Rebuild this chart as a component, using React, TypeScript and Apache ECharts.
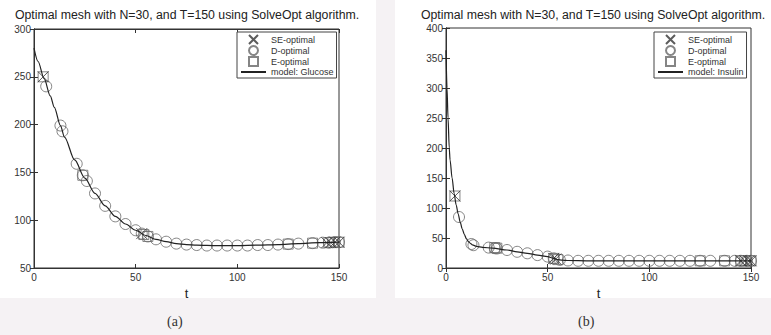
import React, { useEffect, useRef } from "react";
import * as echarts from "echarts";

const titleText = "Optimal mesh with N=30, and T=150 using SolveOpt algorithm.";

// Glucose (a)
const glucoseModelT = [0, 2, 5, 8, 10, 13, 15, 20, 25, 30, 35, 40, 45, 50, 55, 60, 65, 70, 75, 80, 90, 100, 110, 120, 130, 140, 150];
const glucoseModel = [280, 266, 248, 230, 218, 199, 187, 163, 144, 128, 115, 104, 96, 89.5, 84, 80, 77.5, 75.5, 74.5, 74, 73.5, 73.5, 74, 74.5, 75.5, 76.5, 77];
const glucoseDT = [6, 13, 14, 21, 24, 26, 30, 35, 40, 45, 50, 53, 56, 60, 65, 70, 75, 80, 85, 90, 95, 100, 105, 110, 115, 120, 125, 130, 137, 142, 145, 148, 150];
const glucoseD = [240, 199, 193, 159, 147, 141, 128, 115, 104, 96, 89.5, 86, 83, 80, 77.5, 75.5, 74.5, 74, 73.5, 73.5, 73.5, 73.5, 73.5, 74, 74, 74.5, 75, 75.5, 76, 76.5, 76.5, 77, 77];
const glucoseSET = [4.5, 53, 144, 146, 148, 150];
const glucoseSE = [250, 86, 76.5, 76.5, 77, 77];
const glucoseET = [4.5, 24, 54, 56, 125, 137, 145, 147, 150];
const glucoseE = [250, 147, 85, 83, 75, 76, 76.5, 77, 77];

// Insulin (b)
const insulinModelT = [0, 0.5, 1, 1.6, 2, 3, 4, 5, 6, 7, 8, 9, 10, 11, 12, 13, 15, 18, 23, 30, 35, 40, 45, 50, 53, 55, 57, 60, 70, 80, 100, 120, 150];
const insulinModel = [363, 300, 250, 200, 180, 150, 124, 105, 90, 76, 65, 56, 49, 44, 41, 38.5, 36, 34.5, 33, 30, 27, 24.5, 21.5, 19, 16, 14, 13, 12.5, 12, 12, 12, 12, 12];
const insulinDT = [6.4, 12.5, 13.5, 21, 24, 25, 30, 35, 40, 45, 50, 53, 56, 60, 65, 70, 75, 80, 85, 90, 95, 100, 105, 110, 115, 120, 125, 130, 137, 142, 145, 148, 150];
const insulinD = [85, 40, 38, 34, 33, 32.5, 30, 27, 24.5, 21.5, 19, 16, 13.5, 12.5, 12, 12, 12, 12, 12, 12, 12, 12, 12, 12, 12, 12, 12, 12, 12, 12, 12, 12, 12];
const insulinSET = [4.4, 53, 54, 145, 147, 149, 150];
const insulinSE = [120, 16, 15, 12, 12, 12, 12];
const insulinET = [4.4, 24, 25, 53, 55, 125, 137, 145, 147, 150];
const insulinE = [120, 34, 33, 16, 14, 12, 12, 12, 12, 12];

const zip = (t: number[], v: number[]) => t.map((x, i) => [x, v[i]]);

const FONT = "Liberation Sans";
const X_PATH = "path://M0,0L10,10M10,0L0,10";
const SQ_PATH = "path://M0,0L10,0L10,10L0,10Z";

function makeAxes(gridIndex: number, yMin: number, yMax: number) {
  const base = {
    gridIndex,
    type: "value" as const,
    axisLine: { show: true, lineStyle: { color: "#333", width: 1 } },
    axisTick: { show: true, inside: true, length: 4, lineStyle: { color: "#333" } },
    splitLine: { show: false },
  };
  const x = [
    {
      ...base,
      position: "bottom",
      min: 0,
      max: 150,
      interval: 50,
      axisLabel: { color: "#333", fontSize: 10, fontFamily: FONT, margin: 4 },
      name: "t",
      nameLocation: "middle",
      nameGap: 12,
      nameTextStyle: { fontSize: 13, color: "#222", fontFamily: FONT },
    },
    { ...base, position: "top", min: 0, max: 150, interval: 50, axisLabel: { show: false } },
  ];
  const y = [
    {
      ...base,
      position: "left",
      min: yMin,
      max: yMax,
      interval: 50,
      axisLabel: { color: "#333", fontSize: 10, fontFamily: FONT, margin: 3 },
    },
    { ...base, position: "right", min: yMin, max: yMax, interval: 50, axisLabel: { show: false } },
  ];
  return { x, y };
}

function makeSeries(axisIndex: number, modelName: string, model: number[][], se: number[][], d: number[][], e: number[][]) {
  return [
    {
      name: "SE-optimal",
      type: "scatter",
      xAxisIndex: axisIndex,
      yAxisIndex: axisIndex,
      symbol: X_PATH,
      symbolSize: 11,
      itemStyle: { color: "transparent", borderColor: "#333", borderWidth: 1 },
      data: se,
      z: 3,
    },
    {
      name: "D-optimal",
      type: "scatter",
      xAxisIndex: axisIndex,
      yAxisIndex: axisIndex,
      symbol: "circle",
      symbolSize: 11,
      itemStyle: { color: "transparent", borderColor: "#666", borderWidth: 1 },
      data: d,
      z: 2,
    },
    {
      name: "E-optimal",
      type: "scatter",
      xAxisIndex: axisIndex,
      yAxisIndex: axisIndex,
      symbol: SQ_PATH,
      symbolSize: 10,
      itemStyle: { color: "transparent", borderColor: "#666", borderWidth: 1 },
      data: e,
      z: 2,
    },
    {
      name: modelName,
      type: "line",
      xAxisIndex: axisIndex,
      yAxisIndex: axisIndex,
      showSymbol: false,
      symbol: "none",
      smooth: 0.3,
      smoothMonotone: "x",
      lineStyle: { color: "#222", width: 1.2 },
      itemStyle: { color: "#222" },
      data: model,
      z: 4,
    },
  ];
}

function legendFor(left: number, modelName: string) {
  return {
    orient: "vertical",
    left,
    top: 32,
    data: [
      "SE-optimal",
      "D-optimal",
      "E-optimal",
      { name: modelName, itemStyle: { opacity: 0 } },
    ],
    padding: [2, 3, 1, 3],
    itemGap: 0,
    itemWidth: 25,
    itemHeight: 9,
    borderColor: "#444",
    borderWidth: 1,
    backgroundColor: "#fff",
    selectedMode: false,
    textStyle: { fontSize: 9, lineHeight: 10, color: "#333", fontFamily: FONT },
  };
}

export default function App() {
  const ref = useRef<HTMLDivElement>(null);
  useEffect(() => {
    document.body.style.margin = "0";
    if (!ref.current) return;
    const chart = echarts.init(ref.current, undefined, { renderer: "svg" });
    const a = makeAxes(0, 50, 300);
    const b = makeAxes(1, 0, 400);
    const titleStyle = { fontSize: 12.3, fontWeight: "normal", color: "#222", fontFamily: FONT };
    chart.setOption({
      animation: false,
      backgroundColor: "#ffffff",
      graphic: [
        { type: "rect", z: -10, shape: { x: 0, y: 298, width: 771, height: 37 }, style: { fill: "#f5f2f4" } },
        { type: "rect", z: -10, shape: { x: 376, y: 0, width: 19, height: 298 }, style: { fill: "#f5f2f4" } },
        { type: "text", left: 167, top: 314, style: { text: "(a)", fontSize: 14, fontFamily: "Liberation Serif", fill: "#333" } },
        { type: "text", left: 578, top: 314, style: { text: "(b)", fontSize: 14, fontFamily: "Liberation Serif", fill: "#333" } },
      ],
      title: [
        { text: titleText, left: 187, top: 9, padding: 0, textAlign: "center", textStyle: titleStyle },
        { text: titleText, left: 593, top: 9, padding: 0, textAlign: "center", textStyle: titleStyle },
      ],
      legend: [legendFor(237, "model: Glucose"), legendFor(654, "model: Insulin")],
      grid: [
        { left: 34, right: 432, top: 29, bottom: 67, show: true, borderColor: "#333", borderWidth: 1, backgroundColor: "#fff" },
        { left: 446, right: 20, top: 28, bottom: 67, show: true, borderColor: "#333", borderWidth: 1, backgroundColor: "#fff" },
      ],
      xAxis: [...a.x, ...b.x],
      yAxis: [...a.y, ...b.y],
      series: [
        ...makeSeries(0, "model: Glucose", zip(glucoseModelT, glucoseModel), zip(glucoseSET, glucoseSE), zip(glucoseDT, glucoseD), zip(glucoseET, glucoseE)),
        ...makeSeries(2, "model: Insulin", zip(insulinModelT, insulinModel), zip(insulinSET, insulinSE), zip(insulinDT, insulinD), zip(insulinET, insulinE)),
      ],
    });
    return () => chart.dispose();
  }, []);
  return <div ref={ref} style={{ width: 771, height: 335 }} />;
}
